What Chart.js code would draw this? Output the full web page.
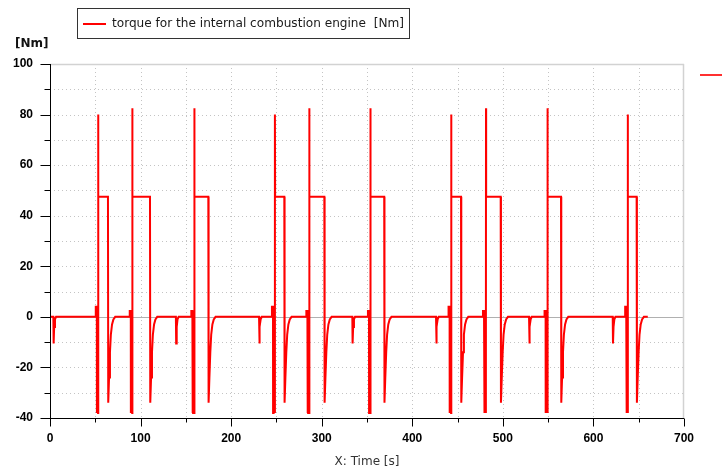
<!DOCTYPE html>
<html>
<head>
<meta charset="utf-8">
<script src="https://cdn.jsdelivr.net/npm/chart.js@4.4.0/dist/chart.umd.min.js"></script>
<style>
html,body{margin:0;padding:0;background:#fff;}
#wrap{width:722px;height:470px;position:relative;}
canvas{display:block;}
</style>
</head>
<body>
<div id="wrap"><canvas id="c" width="722" height="470"></canvas></div>
<script>
// ---------- data ----------
const seriesLabel = 'torque for the internal combustion engine  [Nm]';
const yUnitLabel = '[Nm]';
const xAxisTitle = 'X: Time [s]';
const xTickLabels = [0, 100, 200, 300, 400, 500, 600, 700];
const yTickLabels = [-40, -20, 0, 20, 40, 60, 80, 100];

// engine start cycles
const cycleStart  = [50.5, 88.0, 156.0, 245.0, 283.0, 351.0, 440.0, 478.0, 546.0, 635.0];
const peakTime    = [53.2, 90.9, 159.4, 248.4, 286.3, 353.8, 443.0, 481.4, 549.4, 638.0];
const plateauEnd  = [64.0, 110.4, 174.8, 258.7, 302.9, 369.0, 453.8, 497.6, 564.2, 647.7];
const peakTorque  = [80, 82.5, 82.5, 80, 82.5, 82.5, 80, 82.5, 82.5, 80];
const preBump     = [4, 2.3, 2.3, 4, 2.3, 2.3, 4, 2.3, 2.3, 4];
const plateauTorque = 47.5;
const crankMin = -38;

// cranking burst shape after the cycle start (offset s, kind)
const burstOffset = [0, 0.05, 1.2, 1.3, 1.8, 2.0];
const burstKind   = ['zero', 'bump', 'bump', 'min', 'half', 'min'];

// recovery after plateau end (offset s, torque)
const recoveryOffset = [0.3, 1.2, 2.2, 3.2, 4.5, 6.0, 8.0];
const recoveryValue  = [-34, -24, -14, -7, -3, -1, 0];

// short negative dips
const dipTimes  = [3.7, 139.0, 230.8, 333.8, 426.2, 528.9, 621.3];
const dipOffset = [0, 0.3, 0.9, 1.8, 3.0];
const dipValue  = [0, -10.5, -4, -1, 0];

const startTime = 0;
const endTime = 660;

// ---------- build the line points ----------
const events = [];
dipTimes.forEach(t => {
  events.push({ t, pts: dipOffset.map((o, i) => ({ x: t + o, y: dipValue[i] })) });
});
peakTime.forEach((tp, i) => {
  const t0 = cycleStart[i], te = plateauEnd[i], b = preBump[i];
  const kindVal = { zero: 0, bump: b, half: b / 2, min: crankMin };
  const pts = burstOffset.map((o, k) => ({ x: t0 + o, y: kindVal[burstKind[k]] }));
  pts.push({ x: tp - 0.5, y: 0 });
  pts.push({ x: tp - 0.15, y: crankMin });
  pts.push({ x: tp, y: peakTorque[i] });
  pts.push({ x: tp + 0.15, y: plateauTorque });
  pts.push({ x: te, y: plateauTorque });
  recoveryOffset.forEach((o, k) => pts.push({ x: te + o, y: recoveryValue[k] }));
  events.push({ t: t0, pts });
});
events.sort((a, b) => a.t - b.t);
const points = [{ x: startTime, y: 0 }];
events.forEach(e => e.pts.forEach(p => points.push(p)));
points.push({ x: endTime, y: 0 });

// ---------- decorations drawn from the library's scales ----------
const decor = {
  id: 'decor',
  beforeDatasetsDraw(chart) {
    const { ctx, chartArea: a, scales: { x, y } } = chart;
    const line = (x1, y1, x2, y2) => { ctx.beginPath(); ctx.moveTo(x1, y1); ctx.lineTo(x2, y2); ctx.stroke(); };
    ctx.save();
    ctx.lineWidth = 1;
    ctx.strokeStyle = '#c4c4c4';
    ctx.setLineDash([1, 3]);
    for (let v = y.min + 10; v < y.max; v += 10) {
      if (v === 0) continue;
      const py = Math.round(y.getPixelForValue(v)) + 0.5;
      line(a.left, py, a.right, py);
    }
    for (let v = x.min + 50; v < x.max; v += 50) {
      const px = Math.round(x.getPixelForValue(v)) + 0.5;
      line(px, a.top, px, a.bottom);
    }
    ctx.setLineDash([]);
    ctx.strokeStyle = '#b0b0b0';
    const zy = Math.round(y.getPixelForValue(0)) + 0.5;
    line(a.left, zy, a.right, zy);
    ctx.strokeStyle = '#d2d2d2';
    ctx.lineWidth = 1.5;
    line(a.left, a.top + 0.5, a.right, a.top + 0.5);
    line(a.right - 0.5, a.top, a.right - 0.5, a.bottom);
    ctx.restore();
  },
  afterDraw(chart) {
    const { ctx, chartArea: a, scales: { x, y } } = chart;
    const line = (x1, y1, x2, y2) => { ctx.beginPath(); ctx.moveTo(x1, y1); ctx.lineTo(x2, y2); ctx.stroke(); };
    ctx.save();
    ctx.strokeStyle = '#000';
    ctx.lineWidth = 1;
    const ax = a.left + 0.5, ay = a.bottom + 0.5;
    line(ax, a.top, ax, a.bottom + 1);
    line(a.left, ay, a.right, ay);
    for (let v = y.min; v <= y.max; v += 10) {
      const py = Math.round(y.getPixelForValue(v)) + 0.5;
      const len = (v % 20 === 0) ? 10 : 6;
      line(ax - len, py, ax, py);
    }
    for (let v = x.min; v <= x.max; v += 50) {
      const px = Math.round(x.getPixelForValue(v)) + 0.5;
      const len = (v % 100 === 0) ? 8 : 4;
      line(px, ay, px, ay + len);
    }
    // unit label
    ctx.fillStyle = '#111';
    ctx.font = 'bold 12px "DejaVu Sans"';
    ctx.textBaseline = 'middle';
    ctx.textAlign = 'left';
    ctx.fillText(yUnitLabel, 15, 44);
    // legend box
    ctx.strokeStyle = '#333';
    ctx.lineWidth = 1;
    ctx.strokeRect(77.5, 8.5, 332, 30);
    ctx.fillStyle = '#ff0000';
    ctx.fillRect(83, 23, 23, 2);
    ctx.fillStyle = '#1a1a1a';
    ctx.font = '12px "DejaVu Sans"';
    const w12 = ctx.measureText(seriesLabel).width;
    const fs = Math.min(13, 12 * 292 / w12);
    ctx.font = fs.toFixed(2) + 'px "DejaVu Sans"';
    ctx.fillText(seriesLabel, 112, 24);
    // cut-off legend marker at right
    ctx.fillStyle = '#ff3030';
    ctx.fillRect(700, 74, 22, 2);
    ctx.restore();
  }
};

new Chart(document.getElementById('c'), {
  type: 'line',
  data: {
    datasets: [{
      label: seriesLabel,
      data: points,
      borderColor: '#ff0000',
      borderWidth: 2,
      pointRadius: 0,
      tension: 0,
      fill: false
    }]
  },
  options: {
    responsive: false,
    animation: false,
    devicePixelRatio: 1,
    layout: { padding: { top: 64, right: 38, left: 0, bottom: 0 } },
    plugins: { legend: { display: false }, tooltip: { enabled: false } },
    scales: {
      x: {
        type: 'linear', min: 0, max: 700,
        afterBuildTicks: s => { s.ticks = xTickLabels.map(v => ({ value: v })); },
        ticks: { color: '#000', font: { family: 'Liberation Sans', weight: 'bold', size: 12 }, padding: 13, maxRotation: 0, autoSkip: false },
        grid: { display: false, drawTicks: false },
        border: { display: false },
        title: { display: true, text: xAxisTitle, color: '#333', font: { family: 'DejaVu Sans', size: 12 }, padding: { top: 0, bottom: 1 } },
        afterFit: s => { s.height = 52; }
      },
      y: {
        type: 'linear', min: -40, max: 100,
        afterBuildTicks: s => { s.ticks = yTickLabels.map(v => ({ value: v })); },
        ticks: { color: '#000', font: { family: 'Liberation Sans', weight: 'bold', size: 12 }, padding: 17, autoSkip: false },
        grid: { display: false, drawTicks: false },
        border: { display: false },
        afterFit: s => { s.width = 50; }
      }
    }
  },
  plugins: [decor]
});
</script>
</body>
</html>
